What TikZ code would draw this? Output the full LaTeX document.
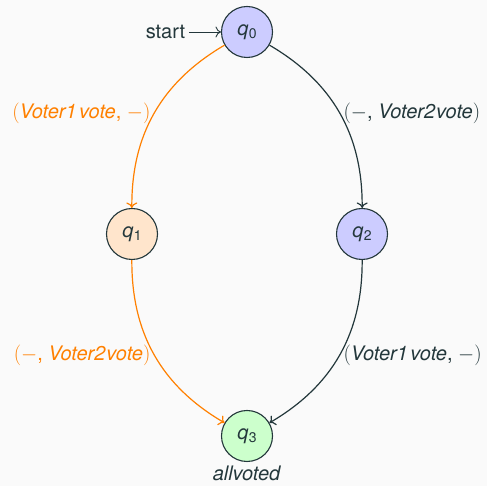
\documentclass[tikz,border=0pt]{standalone}
\usepackage{fontspec}
\setmainfont{TeX Gyre Heros}
\usetikzlibrary{automata,arrows.meta}
\definecolor{ink}{HTML}{23373B}
\definecolor{bgc}{HTML}{FAFAFA}
\definecolor{edgeorange}{RGB}{255,128,0}
% state name: italic q with a smaller upright index
\newcommand{\qsub}[1]{\textit{q}\kern0.3pt{\fontsize{14}{14}\selectfont\raisebox{-3.5pt}{#1}}}
% transition labels: action pairs
\newcommand{\vone}{\textit{Voter1\kern2.5pt vote}}
\newcommand{\vtwo}{\textit{Voter2\kern1pt vote}}
\newcommand{\nop}{$-$}
\begin{document}
\begin{tikzpicture}[x=1pt,y=1pt,
  font=\fontsize{20}{24}\selectfont,
  every state/.style={draw=ink, line width=1.1pt, minimum size=51pt, inner sep=0pt, text=ink},
  initial text=start, initial distance=32pt,
  every initial by arrow/.style={draw=ink, text=ink, line width=0.9pt},
  >={Computer Modern Rightarrow[length=5.5pt,width=11pt]},
  darkedge/.style={draw=ink, text=ink, line width=1.2pt},
  orangeedge/.style={draw=edgeorange, text=edgeorange, line width=1.2pt}]
  \fill[bgc] (0,0) rectangle (487,486);
  \useasboundingbox (0,0) rectangle (487,486);

  \node[state, initial, fill=blue!20] (q0) at (247,454) {\qsub{0}};
  \node[state, fill=orange!20] (q1) at (132,252) {\qsub{1}};
  \node[state, fill=blue!20] (q2) at (362,252) {\qsub{2}};
  \node[state, fill=green!20, label={[text=ink, label distance=0pt]below:\textit{allvoted}}] (q3) at (247,50) {\qsub{3}};

  \path[->]
    (q0) edge[orangeedge, bend right] node[left] {$($\vone, \nop$)$} (q1)
    (q0) edge[darkedge, bend left] node[right] {$($\nop, \vtwo$)$} (q2)
    (q1) edge[orangeedge, bend right] node[left] {$($\nop, \vtwo$)$} (q3)
    (q2) edge[darkedge, bend left] node[right] {$($\vone, \nop$)$} (q3);
\end{tikzpicture}
\end{document}
